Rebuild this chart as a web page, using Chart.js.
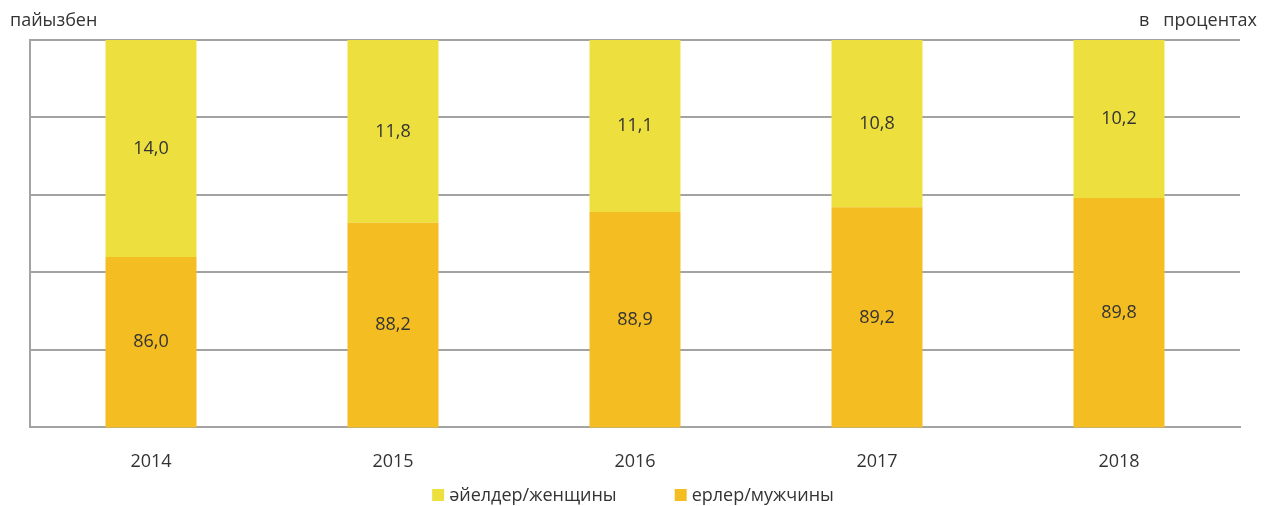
<!DOCTYPE html>
<html>
<head>
<meta charset="utf-8">
<script src="https://cdn.jsdelivr.net/npm/chart.js@4/dist/chart.umd.min.js"></script>
<style>
  html, body { margin: 0; padding: 0; background: #fff; }
  #wrap { width: 1266px; height: 506px; position: relative; }
</style>
</head>
<body>
<div id="wrap"><canvas id="chart"></canvas></div>
<script>
const years = ["2014", "2015", "2016", "2017", "2018"];
const men = [86.0, 88.2, 88.9, 89.2, 89.8];
const women = [14.0, 11.8, 11.1, 10.8, 10.2];
const seriesNames = ["ерлер/мужчины", "әйелдер/женщины"];

const FONT = "'Open Sans', sans-serif";
const TEXT = "#333333";
const GRID = "#a3a3a3";

// labels in the middle of the visible part of each bar
const barLabels = {
  id: "barLabels",
  afterDatasetsDraw(chart) {
    const ctx = chart.ctx;
    const area = chart.chartArea;
    ctx.save();
    ctx.font = "18px " + FONT;
    ctx.fillStyle = TEXT;
    ctx.textAlign = "center";
    ctx.textBaseline = "middle";
    chart.data.datasets.forEach(function (ds, i) {
      chart.getDatasetMeta(i).data.forEach(function (bar, j) {
        const top = Math.max(Math.min(bar.y, bar.base), area.top);
        const bottom = Math.min(Math.max(bar.y, bar.base), area.bottom);
        ctx.fillText(ds.data[j].toFixed(1).replace(".", ","), bar.x, (top + bottom) / 2);
      });
    });
    ctx.restore();
  }
};

// corner captions + legend (women first, like the original)
const extras = {
  id: "extras",
  afterDraw(chart) {
    const ctx = chart.ctx;
    const w = chart.width;
    ctx.save();
    ctx.font = "18px " + FONT;
    ctx.fillStyle = TEXT;
    ctx.textBaseline = "alphabetic";
    ctx.textAlign = "left";
    ctx.fillText("пайызбен", 10, 26);
    ctx.textAlign = "right";
    ctx.fillText("в   процентах", 1257, 26);

    const items = chart.data.datasets.slice().reverse();
    const box = 12, gapText = 5, gapItem = 58;
    const widths = items.map(ds => box + gapText + ctx.measureText(ds.label).width);
    const total = widths.reduce((a, b) => a + b, 0) + gapItem * (items.length - 1);
    let x = (w - total) / 2;
    ctx.textAlign = "left";
    items.forEach(function (ds, i) {
      ctx.fillStyle = ds.backgroundColor;
      ctx.fillRect(x, 489, box, box);
      ctx.fillStyle = TEXT;
      ctx.fillText(ds.label, x + box + gapText, 501);
      x += widths[i] + gapItem;
    });
    ctx.restore();
  }
};

new Chart(document.getElementById("chart"), {
  type: "bar",
  data: {
    labels: years,
    datasets: [
      { label: seriesNames[0], data: men, backgroundColor: "#f4bd22" },
      { label: seriesNames[1], data: women, backgroundColor: "#ede03e" }
    ]
  },
  options: {
    responsive: true,
    maintainAspectRatio: false,
    animation: false,
    layout: { padding: { top: 40, left: 30, right: 26, bottom: 17 } },
    datasets: { bar: { barPercentage: 0.376, categoryPercentage: 1.0 } },
    scales: {
      x: {
        stacked: true,
        grid: { display: false },
        border: { display: true, color: GRID, width: 2 },
        ticks: { color: TEXT, font: { family: FONT, size: 18 }, padding: 16 }
      },
      y: {
        stacked: true,
        min: 75,
        max: 100,
        ticks: { stepSize: 5, display: false },
        grid: { color: GRID, lineWidth: 2, drawTicks: false },
        border: { display: true, color: GRID, width: 2 }
      }
    },
    plugins: {
      legend: { display: false },
      tooltip: { enabled: false }
    }
  },
  plugins: [barLabels, extras]
});
</script>
</body>
</html>
